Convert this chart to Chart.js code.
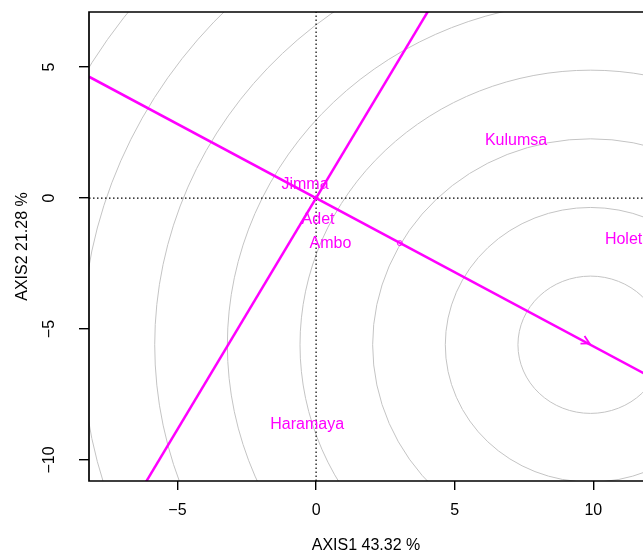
<!DOCTYPE html>
<html>
<head>
<meta charset="utf-8">
<script src="https://cdn.jsdelivr.net/npm/chart.js@4.4.1/dist/chart.umd.min.js"></script>
<style>
  body { margin: 0; background: #fff; overflow: hidden; }
  #chart { display: block; }
</style>
</head>
<body>
<!-- canvas is 5px wider than the window: chart.js keeps a small gap on the right, the plot is cut off there -->
<canvas id="chart" width="648" height="555"></canvas>
<script>
// axis ranges and ticks
const xRange = [-8.19, 11.79]
const yRange = [-10.8, 7.1]
const xTickValues = [-5, 0, 5, 10]
const xTickLabels = ['\u22125', '0', '5', '10']
const yTickValues = [-10, -5, 0, 5]
const yTickLabels = ['\u221210', '\u22125', '0', '5']
const xTitle = 'AXIS1 43.32 %'
const yTitle = 'AXIS2 21.28 %'

// environments
const envNames = ['Kulumsa', 'Holeta', 'Jimma', 'Adet', 'Ambo', 'Haramaya']
const envX = [7.21, 11.25, -0.40, 0.07, 0.52, -0.32]
const envY = [2.18, -1.60, 0.50, -0.84, -1.72, -8.63]

// average environment axis and its perpendicular
const aeaX = [-8.19, 12.0]
const aeaY = [4.63, -6.79]
const perpX = [-6.2, 4.1]
const perpY = [-10.95, 7.24]
const avgEnv = [3.02, -1.72]
const arrowTip = [9.86, -5.55]

// concentric circles
const circleCenter = [9.9, -5.6]
const circleRadii = [2.62, 5.24, 7.86, 10.48, 13.1, 15.72, 18.34, 20.96]

const magenta = '#ff00ff'
const fontFamily = '"Liberation Sans", Arial, Helvetica, sans-serif'

function pts(xs, ys) {
    return xs.map((x, i) => ({ x: x, y: ys[i] }))
}

const circlesPlugin = {
    id: 'circles',
    beforeDatasetsDraw(chart) {
        const ctx = chart.ctx
        const xs = chart.scales.x, ys = chart.scales.y
        const a = chart.chartArea
        const cx = xs.getPixelForValue(circleCenter[0])
        const cy = ys.getPixelForValue(circleCenter[1])
        ctx.save()
        ctx.beginPath()
        ctx.rect(a.left, a.top, a.right - a.left, a.bottom - a.top)
        ctx.clip()
        ctx.strokeStyle = '#c4c4c4'
        ctx.lineWidth = 1
        circleRadii.forEach(r => {
            const rx = Math.abs(xs.getPixelForValue(circleCenter[0] + r) - cx)
            const ry = Math.abs(ys.getPixelForValue(circleCenter[1] + r) - cy)
            ctx.beginPath()
            ctx.ellipse(cx, cy, rx, ry, 0, 0, Math.PI * 2)
            ctx.stroke()
        })
        ctx.restore()
    },
    afterDatasetsDraw(chart) {
        const ctx = chart.ctx
        const xs = chart.scales.x, ys = chart.scales.y
        const a = chart.chartArea

        // arrow head on the average environment axis
        const tx = xs.getPixelForValue(arrowTip[0]), ty = ys.getPixelForValue(arrowTip[1])
        const ox = xs.getPixelForValue(0), oy = ys.getPixelForValue(0)
        const ang = Math.atan2(ty - oy, tx - ox)
        ctx.save()
        ctx.strokeStyle = magenta
        ctx.lineWidth = 1.8
        ctx.beginPath()
        ctx.moveTo(tx - 9 * Math.cos(ang - 0.5), ty - 9 * Math.sin(ang - 0.5))
        ctx.lineTo(tx, ty)
        ctx.lineTo(tx - 9 * Math.cos(ang + 0.5), ty - 9 * Math.sin(ang + 0.5))
        ctx.stroke()
        ctx.restore()

        // environment labels
        const meta = chart.getDatasetMeta(chart.data.datasets.findIndex(d => d.label == 'env'))
        ctx.save()
        ctx.fillStyle = magenta
        ctx.font = '16px ' + fontFamily
        ctx.textAlign = 'center'
        ctx.textBaseline = 'middle'
        meta.data.forEach((el, i) => {
            ctx.fillText(envNames[i], el.x, el.y)
        })
        ctx.restore()

        // frame (right side is outside the picture)
        ctx.save()
        ctx.strokeStyle = '#000'
        ctx.lineWidth = 1.7
        ctx.beginPath()
        ctx.moveTo(a.right + 2, a.top)
        ctx.lineTo(a.left, a.top)
        ctx.lineTo(a.left, a.bottom)
        ctx.lineTo(a.right + 2, a.bottom)
        ctx.stroke()

        // y tick labels, rotated like R
        ctx.fillStyle = '#000'
        ctx.font = '16px ' + fontFamily
        ctx.textAlign = 'center'
        ctx.textBaseline = 'middle'
        yTickValues.forEach((v, i) => {
            ctx.save()
            ctx.translate(50, ys.getPixelForValue(v))
            ctx.rotate(-Math.PI / 2)
            ctx.fillText(yTickLabels[i], 0, 0)
            ctx.restore()
        })
        ctx.restore()
    }
}

const chart = new Chart(document.getElementById('chart'), {
    type: 'scatter',
    data: {
        datasets: [
            {
                label: 'env',
                data: pts(envX, envY),
                pointRadius: 0,
                order: 0
            },
            {
                label: 'avg',
                data: pts([avgEnv[0]], [avgEnv[1]]),
                pointRadius: 2.5,
                borderWidth: 1,
                borderColor: magenta,
                backgroundColor: 'rgba(0,0,0,0)',
                order: 1
            },
            {
                label: 'aea',
                data: pts(aeaX, aeaY),
                showLine: true,
                borderColor: magenta,
                borderWidth: 2.5,
                pointRadius: 0,
                order: 2
            },
            {
                label: 'perp',
                data: pts(perpX, perpY),
                showLine: true,
                borderColor: magenta,
                borderWidth: 2.5,
                pointRadius: 0,
                order: 3
            },
            {
                label: 'zeroV',
                data: pts([0, 0], yRange),
                showLine: true,
                borderColor: '#000',
                borderWidth: 1.2,
                borderDash: [1.5, 2.5],
                pointRadius: 0,
                order: 4
            },
            {
                label: 'zeroH',
                data: pts(xRange, [0, 0]),
                showLine: true,
                borderColor: '#000',
                borderWidth: 1.2,
                borderDash: [1.5, 2.5],
                pointRadius: 0,
                order: 5
            }
        ]
    },
    options: {
        responsive: false,
        animation: false,
        devicePixelRatio: 1,
        layout: { padding: { top: 12, left: 0, right: 0, bottom: 0 } },
        plugins: {
            legend: { display: false },
            tooltip: { enabled: false }
        },
        scales: {
            x: {
                type: 'linear',
                min: xRange[0],
                max: xRange[1],
                afterBuildTicks: s => { s.ticks = xTickValues.map(v => ({ value: v })) },
                afterFit: s => { s.height = 74 },
                border: { display: false },
                grid: { drawOnChartArea: false, drawTicks: true, tickLength: 9, color: '#000', lineWidth: 1.4 },
                ticks: {
                    color: '#000',
                    padding: 11,
                    maxRotation: 0,
                    font: { size: 16, family: fontFamily },
                    callback: v => xTickLabels[xTickValues.indexOf(v)]
                },
                title: {
                    display: true,
                    text: xTitle,
                    color: '#000',
                    font: { size: 16, family: fontFamily },
                    padding: { top: 0, bottom: 0 }
                }
            },
            y: {
                type: 'linear',
                min: yRange[0],
                max: yRange[1],
                afterBuildTicks: s => { s.ticks = yTickValues.map(v => ({ value: v })) },
                afterFit: s => { s.width = 89 },
                border: { display: false },
                grid: { drawOnChartArea: false, drawTicks: true, tickLength: 10, color: '#000', lineWidth: 1.4 },
                ticks: { display: false },
                title: {
                    display: true,
                    text: yTitle,
                    color: '#000',
                    font: { size: 16, family: fontFamily },
                    padding: { top: 13, bottom: 0 }
                }
            }
        }
    },
    plugins: [circlesPlugin]
})
</script>
</body>
</html>
